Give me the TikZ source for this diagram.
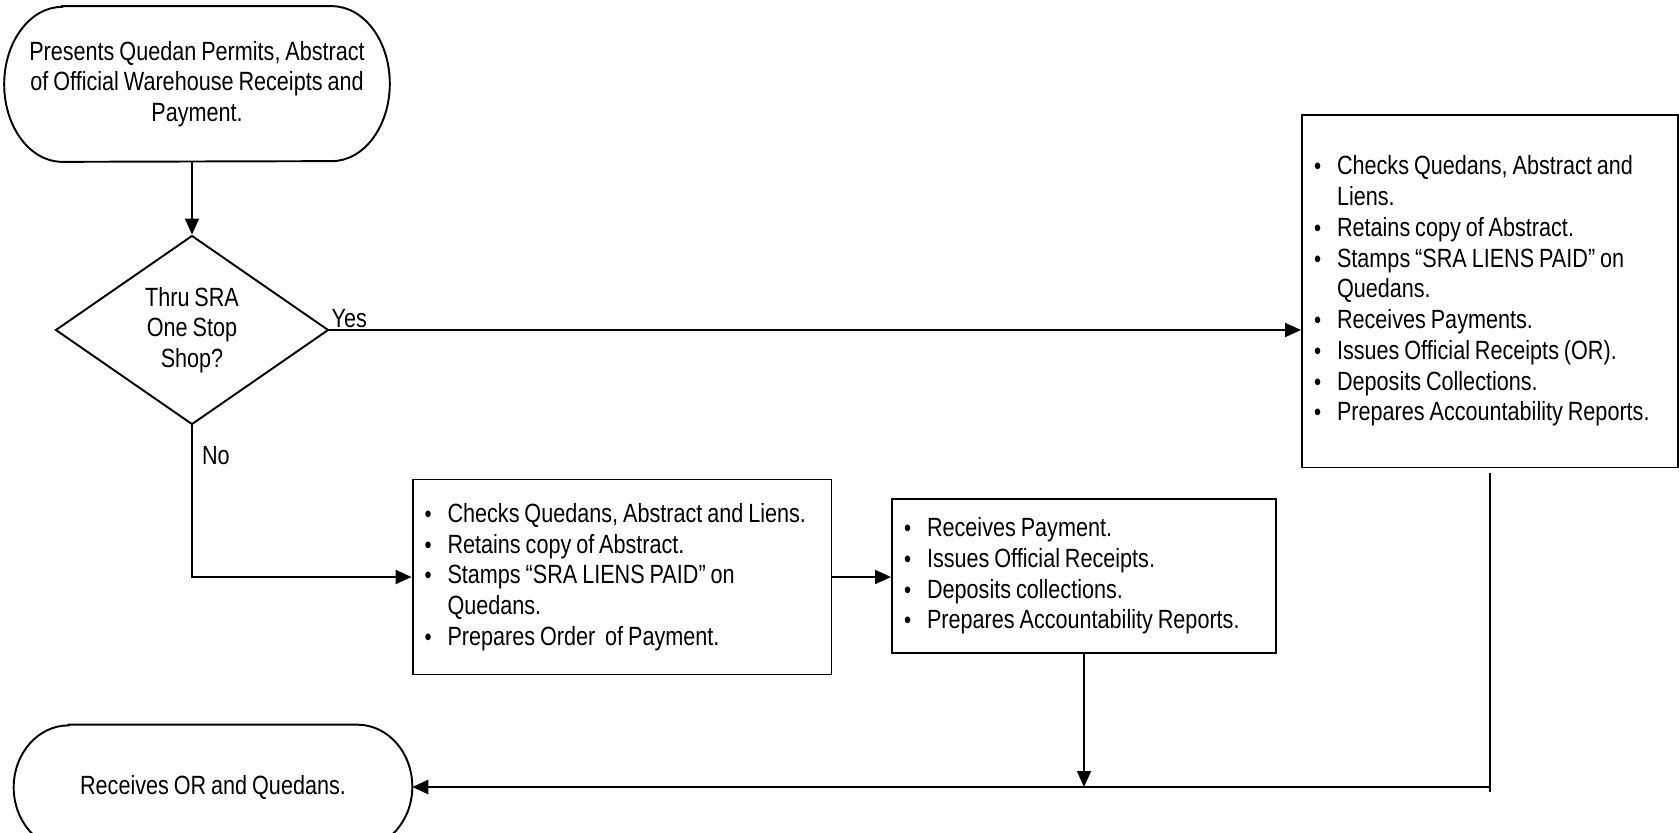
\documentclass[tikz,border=0pt]{standalone}
\usepackage{fontspec}
\setmainfont{Liberation Sans}[FakeStretch=0.82,WordSpace=0.82]
\usepackage{tikz}
\usetikzlibrary{calc,arrows.meta,shapes.geometric}

\newcommand\bul{\hspace*{0.14cm}\makebox[0.46cm][l]{\fontsize{14}{14}\selectfont\textbullet}}
\newcommand\ind{\hspace*{0.6cm}}
\newcommand\termshape[3]{%
  \draw[line width=1.1pt] ([xshift=#2]#1.north west) -- ([xshift=-#2]#1.north east)
    arc[start angle=90,end angle=-90,x radius=#2,y radius=#3]
    -- ([xshift=#2]#1.south west)
    arc[start angle=270,end angle=90,x radius=#2,y radius=#3] -- cycle;}

\begin{document}
\begin{tikzpicture}[x=0.02cm,y=-0.02cm,
  font=\fontsize{15}{17.5}\selectfont,
  arr/.style={line width=1.1pt,-{Triangle[length=0.32cm,width=0.28cm]}},
  term/.style={inner sep=0pt,align=center},
  listbox/.style={draw,line width=1.1pt,inner xsep=0.1cm,inner ysep=0pt,align=flush left},
  lbl/.style={inner sep=1pt}]

\useasboundingbox (0,0) rectangle (1679,832);
\clip (0,0) rectangle (1679,832);

% start and end
\node[term,minimum width=7.7cm,minimum height=3.1cm] (start) at (197,84)
  {Presents Quedan Permits, Abstract\\of Official Warehouse Receipts and\\Payment.};
\termshape{start}{1.16cm}{1.55cm}
\node[term,minimum width=7.96cm,minimum height=2.48cm] (rcv) at (213,787)
  {Receives OR and Quedans.};
\termshape{rcv}{1.1cm}{1.24cm}

% decision
\node[diamond,draw,line width=1.1pt,minimum width=5.46cm,minimum height=3.78cm,
  inner sep=0pt,align=center] (dec) at (192,330) {Thru SRA\\One Stop\\Shop?};
\node[lbl,anchor=south west] (yes) at (dec.east) {Yes};
\node[lbl,anchor=north west] (no) at ([xshift=0.16cm,yshift=-0.38cm]dec.south) {No};

% boxes
\node[listbox,text width=7.32cm,minimum height=7.06cm] (oss) at (1490,291)
  {\bul Checks Quedans, Abstract and\\
   \ind Liens.\\
   \bul Retains copy of Abstract.\\
   \bul Stamps “SRA LIENS PAID” on\\
   \ind Quedans.\\
   \bul Receives Payments.\\
   \bul Issues Official Receipts (OR).\\
   \bul Deposits Collections.\\
   \bul Prepares Accountability Reports.};
\node[listbox,text width=8.18cm,minimum height=3.9cm] (chk) at (622,577)
  {\bul Checks Quedans, Abstract and Liens.\\
   \bul Retains copy of Abstract.\\
   \bul Stamps “SRA LIENS PAID” on\\
   \ind Quedans.\\
   \bul Prepares Order~ of Payment.};
\node[listbox,text width=7.48cm,minimum height=3.08cm] (pay) at (1084,576)
  {\bul Receives Payment.\\
   \bul Issues Official Receipts.\\
   \bul Deposits collections.\\
   \bul Prepares Accountability Reports.};

% connectors
\coordinate (corner) at (oss.south |- 0,787);
\draw[arr] (start.south -| dec.north) -- (dec.north);
\draw[arr] (dec.east) -- (dec.east -| oss.west);
\draw[arr] (dec.south) |- (chk.west);
\draw[arr] (chk.east) -- (chk.east -| pay.west);
\draw[arr] (pay.south) -- (pay.south |- corner);
\draw[line width=1.1pt] ([yshift=-0.1cm]oss.south) -- ([yshift=-0.1cm]corner);
\draw[arr,line width=1.6pt] (corner) -- (rcv.east);
\end{tikzpicture}
\end{document}
